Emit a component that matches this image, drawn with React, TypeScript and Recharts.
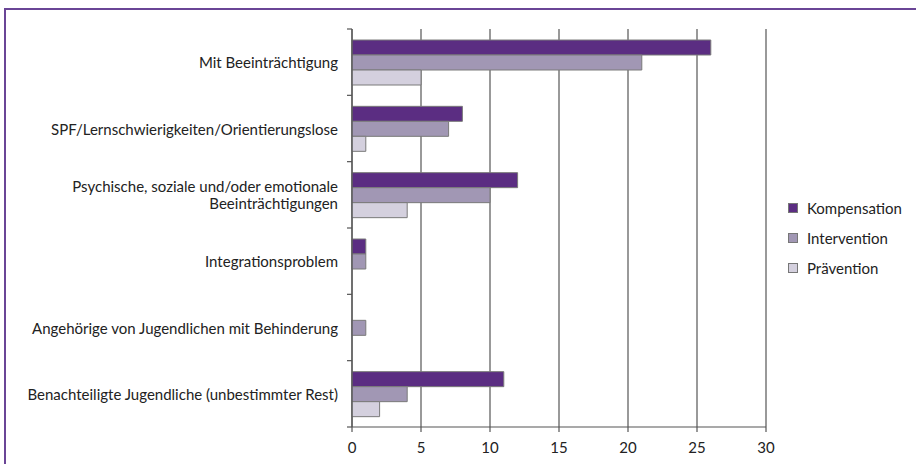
import React from "react";
import { BarChart, Bar, XAxis, YAxis, CartesianGrid } from "recharts";

const categories = [
  "Mit Beeinträchtigung",
  "SPF/Lernschwierigkeiten/Orientierungslose",
  "Psychische, soziale und/oder emotionale\nBeeinträchtigungen",
  "Integrationsproblem",
  "Angehörige von Jugendlichen mit Behinderung",
  "Benachteiligte Jugendliche (unbestimmter Rest)",
];
const kompensation = [26, 8, 12, 1, 0, 11];
const intervention = [21, 7, 10, 1, 1, 4];
const praevention = [5, 1, 4, 0, 0, 2];
const xTicks = [0, 5, 10, 15, 20, 25, 30];

const seriesNames = ["Kompensation", "Intervention", "Prävention"];
const seriesColors = ["#5b2d82", "#a197b4", "#d4d0de"];

const data = categories.map((name, i) => ({
  name,
  Kompensation: kompensation[i],
  Intervention: intervention[i],
  "Prävention": praevention[i],
}));

const W = 916;
const H = 464;
const X_H = 30;
const MARGIN = { top: 29, right: 150, bottom: 7, left: 0 };
const Y_W = 352;
const FONT = "Lato, 'Noto Sans', sans-serif";
const AXIS = "#555555";
const FS = 15;

const band = (H - MARGIN.top - MARGIN.bottom - X_H) / categories.length;

const YTick = (props: any) => {
  const { x, y, payload, index } = props;
  const lines = String(payload.value).split("\n");
  const lh = 17;
  const startY = y - ((lines.length - 1) * lh) / 2;
  return (
    <g>
      <line x1={x - 5} x2={x} y1={y - band / 2} y2={y - band / 2} stroke={AXIS} strokeWidth={1.2} />
      {index === categories.length - 1 && (
        <line x1={x - 5} x2={x} y1={y + band / 2} y2={y + band / 2} stroke={AXIS} strokeWidth={1.2} />
      )}
      <text x={x - 14} y={startY} textAnchor="end" dominantBaseline="central" fontSize={FS} fill="#222" fontFamily={FONT}>
        {lines.map((l, i) => (
          <tspan key={i} x={x - 14} dy={i === 0 ? 0 : lh}>
            {l}
          </tspan>
        ))}
      </text>
    </g>
  );
};

const LegendBox = () => (
  <div style={{ position: "absolute", left: 788, top: 193, fontFamily: FONT, fontSize: FS, color: "#222" }}>
    {seriesNames.map((n, i) => (
      <div key={n} style={{ display: "flex", alignItems: "center", height: 30 }}>
        <div
          style={{
            width: 10,
            height: 10,
            background: seriesColors[i],
            border: "1px solid #777",
            boxSizing: "border-box",
            marginRight: 9,
          }}
        />
        <span>{n}</span>
      </div>
    ))}
  </div>
);

export default function App() {
  return (
    <div style={{ position: "fixed", left: 0, top: 0, width: W, height: H, overflow: "hidden", background: "#fff" }}>
      <div
        style={{
          position: "absolute",
          left: 4,
          top: 8,
          width: 2000,
          height: 2000,
          borderTop: "2px solid #6a4596",
          borderLeft: "2px solid #6a4596",
        }}
      />
      <div style={{ position: "absolute", left: 0, top: 0 }}>
        <BarChart
          width={W}
          height={H}
          data={data}
          layout="vertical"
          margin={MARGIN}
          barGap={0}
          barSize={15}
        >
          <CartesianGrid horizontal={false} vertical={true} stroke={AXIS} strokeWidth={1.2} />
          <XAxis
            type="number"
            domain={[0, 30]}
            ticks={xTicks}
            interval={0}
            height={X_H}
            axisLine={{ stroke: AXIS, strokeWidth: 1.2 }}
            tickLine={{ stroke: AXIS, strokeWidth: 1.2 }}
            tickSize={5}
            tickMargin={10}
            tick={{ fontSize: FS, fill: "#222", fontFamily: FONT }}
          />
          <YAxis
            type="category"
            dataKey="name"
            width={Y_W}
            interval={0}
            tickSize={0}
            tickMargin={0}
            tickLine={false}
            axisLine={{ stroke: AXIS, strokeWidth: 1.2 }}
            tick={<YTick />}
          />
          {seriesNames.map((n, i) => (
            <Bar
              key={n}
              dataKey={n}
              fill={seriesColors[i]}
              stroke="#7a7a7a"
              strokeWidth={1}
              isAnimationActive={false}
            />
          ))}
        </BarChart>
      </div>
      <LegendBox />
    </div>
  );
}
